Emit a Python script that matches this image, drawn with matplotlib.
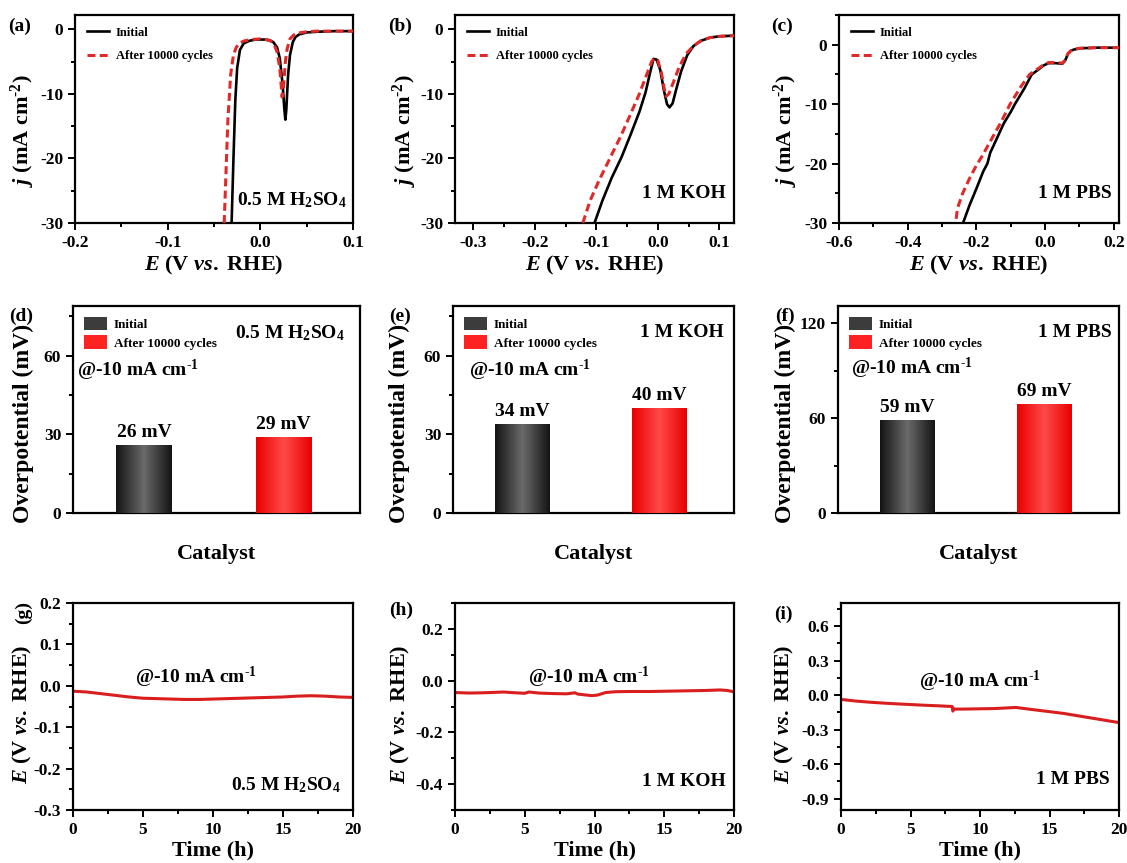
import numpy as np
import matplotlib
matplotlib.use("Agg")
import matplotlib.pyplot as plt
from matplotlib.colors import LinearSegmentedColormap
from matplotlib.patches import Patch
from matplotlib.ticker import MultipleLocator

plt.rcParams["font.family"] = ["Liberation Serif", "DejaVu Serif"]
plt.rcParams["font.weight"] = "bold"
plt.rcParams["axes.labelweight"] = "bold"
plt.rcParams["mathtext.fontset"] = "custom"
plt.rcParams["mathtext.rm"] = "Liberation Serif:bold"
plt.rcParams["mathtext.bf"] = "Liberation Serif:bold"
plt.rcParams["mathtext.it"] = "Liberation Serif:italic:bold"
plt.rcParams["axes.unicode_minus"] = False

W, H = 1127, 863

# ---- LSV data (a-c) ----
a_E_init = [-0.031, -0.029, -0.027, -0.025, -0.022, -0.018, -0.012, -0.005, 0.0, 0.005, 0.010, 0.014,
            0.018, 0.021, 0.024, 0.026, 0.027, 0.028, 0.030, 0.032, 0.035, 0.038, 0.042, 0.05, 0.06, 0.08, 0.1]
a_j_init = [-30, -20, -11, -6, -3.2, -2.2, -1.8, -1.6, -1.6, -1.6, -1.7, -2.0,
            -2.8, -4.5, -8.5, -12.5, -14, -12.5, -7, -4, -2, -1.2, -0.8, -0.5, -0.4, -0.3, -0.3]
a_E_red = [-0.039, -0.037, -0.035, -0.032, -0.029, -0.026, -0.022, -0.017, -0.01, 0.0, 0.006, 0.011,
           0.015, 0.018, 0.021, 0.0235, 0.025, 0.027, 0.029, 0.032, 0.036, 0.04, 0.05, 0.06, 0.08, 0.1]
a_j_red = [-30, -22, -14, -7, -4, -2.8, -2.1, -1.8, -1.6, -1.5, -1.6, -1.8,
           -2.4, -3.5, -6, -10.5, -9, -5, -3, -1.5, -0.9, -0.6, -0.4, -0.3, -0.3, -0.3]

b_E_init = [-0.103, -0.09, -0.075, -0.059, -0.045, -0.03, -0.02, -0.012, -0.007, -0.002, 0.004, 0.010,
            0.015, 0.019, 0.024, 0.030, 0.038, 0.048, 0.058, 0.07, 0.085, 0.10, 0.124]
b_j_init = [-30, -26.5, -23, -19.8, -16.5, -12.8, -9.8, -6.5, -4.6, -4.7, -6.3, -9.5,
            -11.6, -12.1, -11.5, -9.3, -6.5, -4, -2.6, -1.8, -1.3, -1.1, -1.0]
b_E_red = [-0.122, -0.11, -0.095, -0.078, -0.06, -0.045, -0.03, -0.018, -0.01, -0.005, 0.0, 0.006,
           0.0105, 0.0135, 0.018, 0.025, 0.035, 0.046, 0.058, 0.07, 0.085, 0.10, 0.124]
b_j_red = [-30, -26.5, -23.3, -20, -16.5, -13.3, -10, -7, -5, -4.5, -4.8, -6.8,
           -9.2, -10.4, -10, -8.3, -5.8, -3.8, -2.6, -1.8, -1.3, -1.1, -1.0]

c_E_init = [-0.239, -0.22, -0.2, -0.18, -0.168, -0.16, -0.14, -0.12, -0.1, -0.088, -0.06, -0.039,
            -0.02, -0.005, 0.01, 0.03, 0.05, 0.058, 0.066, 0.075, 0.085, 0.1, 0.15, 0.215]
c_j_init = [-30, -27, -24.2, -21.3, -20, -18.2, -15.7, -13.2, -11.3, -10, -7.3, -5,
            -4.2, -3.5, -3.1, -3.1, -3.2, -2.7, -1.6, -1.0, -0.8, -0.6, -0.5, -0.5]
c_E_red = [-0.259, -0.255, -0.24, -0.22, -0.2, -0.185, -0.16, -0.13, -0.102, -0.07, -0.045, -0.02,
           -0.005, 0.01, 0.03, 0.05, 0.058, 0.066, 0.075, 0.085, 0.1, 0.15, 0.215]
c_j_red = [-29.3, -27.5, -25, -22.5, -20.3, -18.9, -16.3, -13.2, -10, -7, -5, -4,
           -3.4, -3.0, -3.0, -3.1, -2.6, -1.5, -1.0, -0.8, -0.6, -0.5, -0.5]

# ---- overpotential bars (d-f) ----
bar_labels = ["Initial", "After 10000 cycles"]
d_eta = [26, 29]
e_eta = [34, 40]
f_eta = [59, 69]

# ---- stability (g-i) ----
g_t = [0, 1, 2, 3, 4, 5, 6, 7, 8, 9, 10, 11, 12, 13, 14, 15, 16, 17, 18, 19, 20]
g_E = [-0.013, -0.015, -0.019, -0.023, -0.027, -0.030, -0.031, -0.032, -0.033, -0.033, -0.032,
       -0.031, -0.030, -0.029, -0.028, -0.027, -0.025, -0.024, -0.025, -0.027, -0.028]
h_t = [0, 1, 2, 3, 3.5, 4, 5, 5.3, 6, 7, 8, 8.6, 8.8, 9.3, 9.8, 10.2, 10.8, 11.5, 12.5, 14, 15,
       16, 17, 18, 19, 19.5, 20]
h_E = [-0.046, -0.048, -0.047, -0.045, -0.044, -0.046, -0.049, -0.044, -0.048, -0.050, -0.051,
       -0.047, -0.052, -0.055, -0.058, -0.056, -0.046, -0.043, -0.042, -0.042, -0.041, -0.040,
       -0.039, -0.038, -0.036, -0.038, -0.043]
i_t = [0, 1, 2, 3, 4, 5, 6, 7, 8, 8.05, 8.15, 8.3, 9, 10, 11, 12, 12.6, 13, 14, 15, 16, 17, 18, 19, 20]
i_E = [-0.038, -0.052, -0.062, -0.070, -0.077, -0.083, -0.089, -0.094, -0.100, -0.14, -0.12, -0.123,
       -0.122, -0.120, -0.118, -0.112, -0.108, -0.115, -0.13, -0.145, -0.16, -0.18, -0.2, -0.22, -0.24]

RED_LINE = "#e02a2a"
STAB_RED = "#d81e1e"
ELEC = {"a": "0.5 M H$_2$SO$_4$", "b": "1 M KOH", "c": "1 M PBS"}
AT10 = r"@-10 mA cm$^{\text{-1}}$"


def add_ax(l, r, t, b):
    return fig.add_axes([l / W, 1 - b / H, (r - l) / W, (b - t) / H])


def style(ax):
    for s in ax.spines.values():
        s.set_linewidth(1.6)
    ax.tick_params(which="both", direction="out", top=False, right=False,
                   labelsize=12.5, width=1.4)
    ax.tick_params(which="major", length=5)
    ax.tick_params(which="minor", length=3)


def panel_label(x, y, s, rot=0):
    fig.text(x / W, 1 - y / H, s, fontsize=14, fontweight="bold",
             ha="center", va="center", rotation=rot)


def grad_bar(ax, x, h, w, c_edge, c_mid):
    bar = ax.bar(x, h, w, color=c_edge, zorder=2)[0]
    t = np.linspace(0, 1, 100)
    prof = 1 - np.abs(2 * t - 1)
    cmap = LinearSegmentedColormap.from_list("g", [c_edge, c_mid])
    im = ax.imshow(prof[None, :], cmap=cmap, aspect="auto", vmin=0, vmax=1,
                   extent=[x - w / 2, x + w / 2, 0, h], zorder=3)
    im.set_clip_path(bar)


fig = plt.figure(figsize=(W / 100, H / 100), dpi=100)

# ---------- row 1: LSV ----------
lsv = [
    ("a", (75, 353), a_E_init, a_j_init, a_E_red, a_j_red, (-0.2, 0.1), (-30, 2.2), 0.1, 0.05, (0.978, 0.11), -0.137),
    ("b", (455, 734), b_E_init, b_j_init, b_E_red, b_j_red, (-0.33, 0.124), (-30, 2.2), 0.1, 0.05, (0.97, 0.144), -0.13),
    ("c", (839, 1119), c_E_init, c_j_init, c_E_red, c_j_red, (-0.6, 0.215), (-30, 5.0), 0.2, 0.1, (0.975, 0.144), -0.14),
]
for key, (l, r), e1, j1, e2, j2, xl, yl, xmaj, xmin, tpos, ylx in lsv:
    ax = add_ax(l, r, 15, 223)
    style(ax)
    ax.plot(e1, j1, color="black", lw=1.9, label="Initial", zorder=3)
    ax.plot(e2, j2, color=RED_LINE, lw=2.2, ls=(0, (2.6, 1.4)), label="After 10000 cycles", zorder=4)
    ax.set_xlim(*xl)
    ax.set_ylim(*yl)
    ax.xaxis.set_major_locator(MultipleLocator(xmaj))
    ax.xaxis.set_minor_locator(MultipleLocator(xmin))
    ax.yaxis.set_major_locator(MultipleLocator(10))
    ax.yaxis.set_minor_locator(MultipleLocator(5))
    ax.set_xlabel("$E$ (V $vs.$ RHE)", fontsize=16, labelpad=2)
    ax.set_ylabel(r"$j$ (mA cm$^{\text{-2}}$)", fontsize=16)
    ax.yaxis.set_label_coords(ylx, 0.442)
    ax.legend(loc="upper left", frameon=False, handlelength=1.8, handletextpad=0.5,
              labelspacing=0.9, borderaxespad=0.55, prop={"weight": "bold", "size": 9})
    ax.text(tpos[0], tpos[1], ELEC[key], transform=ax.transAxes, fontsize=14,
            ha="right", va="center")

panel_label(20, 26, "(a)")
panel_label(400, 26, "(b)")
panel_label(782, 26, "(c)")

# ---------- row 2: overpotential bars ----------
bars = [
    ("a", (73, 360), d_eta, 79, 30, 15, (0.948, 0.87), (0.015, 0.69), -0.136),
    ("b", (453, 734), e_eta, 79, 30, 15, (0.964, 0.87), (0.056, 0.69), -0.153),
    ("c", (838, 1119), f_eta, 131, 60, 30, (0.975, 0.87), (0.046, 0.70), -0.15),
]
for key, (l, r), eta, ytop, ymaj, ymin, epos, apos, ylx in bars:
    ax = add_ax(l, r, 306, 513)
    style(ax)
    xs = [1, 2]
    grad_bar(ax, xs[0], eta[0], 0.4, "#141414", "#6a6a6a")
    grad_bar(ax, xs[1], eta[1], 0.4, "#e80000", "#ff4a4a")
    for x, v in zip(xs, eta):
        ax.text(x, v + ytop * 0.02, f"{v} mV", ha="center", va="bottom", fontsize=14)
    ax.set_xlim(0.49, 2.55)
    ax.set_ylim(0, ytop)
    ax.set_xticks([])
    ax.yaxis.set_major_locator(MultipleLocator(ymaj))
    ax.yaxis.set_minor_locator(MultipleLocator(ymin))
    ax.set_xlabel("Catalyst", fontsize=16, labelpad=22)
    ax.set_ylabel("Overpotential (mV)", fontsize=17)
    ax.yaxis.set_label_coords(ylx, 0.435)
    handles = [Patch(facecolor="#3c3c3c", edgecolor="none", label=bar_labels[0]),
               Patch(facecolor="#ff2222", edgecolor="none", label=bar_labels[1])]
    ax.legend(handles=handles, loc="upper left", frameon=False, handlelength=1.8,
              handleheight=1.2, handletextpad=0.5, labelspacing=0.35, borderaxespad=0.4,
              prop={"weight": "bold", "size": 9.5})
    ax.text(epos[0], epos[1], ELEC[key], transform=ax.transAxes, fontsize=14,
            ha="right", va="center")
    ax.text(apos[0], apos[1], AT10, transform=ax.transAxes, fontsize=14,
            ha="left", va="center")

panel_label(21, 316, "(d)")
panel_label(400, 316, "(e)")
panel_label(785, 316, "(f)")

# ---------- row 3: stability ----------
stab = [
    ("a", (73, 353), g_t, g_E, (-0.3, 0.2), 0.1, 0.05, (0.44, 0.64), (0.955, 0.12), -0.139),
    ("b", (455, 734), h_t, h_E, (-0.5, 0.3), 0.2, 0.1, (0.48, 0.64), (0.97, 0.137), -0.154),
    ("c", (841, 1119), i_t, i_E, (-1.0, 0.8), 0.3, 0.15, (0.5, 0.62), (0.968, 0.145), -0.162),
]
for key, (l, r), t, e, yl, ymaj, ymin, apos, epos, ylx in stab:
    ax = add_ax(l, r, 603, 810)
    style(ax)
    ax.plot(t, e, color=STAB_RED, lw=2.2)
    ax.set_xlim(0, 20)
    ax.set_ylim(*yl)
    ax.xaxis.set_major_locator(MultipleLocator(5))
    ax.xaxis.set_minor_locator(MultipleLocator(2.5))
    ax.yaxis.set_major_locator(MultipleLocator(ymaj))
    ax.yaxis.set_minor_locator(MultipleLocator(ymin))
    ax.set_xlabel("Time (h)", fontsize=16, labelpad=2)
    ax.set_ylabel("$E$ (V $vs.$ RHE)", fontsize=16)
    ax.yaxis.set_label_coords(ylx, 0.464)
    ax.text(apos[0], apos[1], AT10, transform=ax.transAxes, fontsize=14,
            ha="center", va="center")
    ax.text(epos[0], epos[1], ELEC[key], transform=ax.transAxes, fontsize=14,
            ha="right", va="center")

panel_label(23, 612, "(g)", rot=90)
panel_label(401, 610, "(h)")
panel_label(783, 614, "(i)")

fig.savefig("out.png", dpi=100)
